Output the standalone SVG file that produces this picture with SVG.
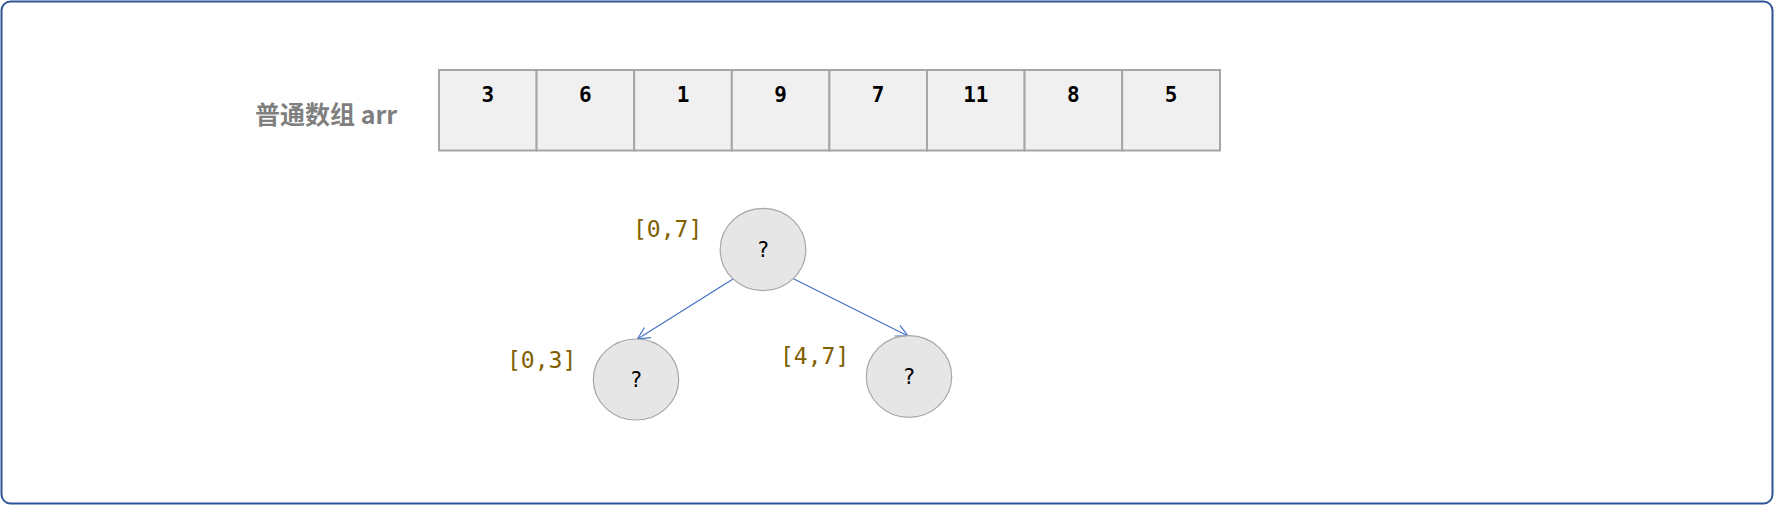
<svg xmlns="http://www.w3.org/2000/svg" width="1774" height="505" viewBox="0 0 1774 505">
<style>
.cell{fill:#f0f0f0;stroke:#a6a6a6;stroke-width:2}
.num{font-family:"DejaVu Sans Mono","Liberation Mono",monospace;font-weight:bold;font-size:21px;fill:#000;text-anchor:middle}
.node{fill:#e6e6e6;stroke:#a6a6a6;stroke-width:1.2}
.q{font-family:"DejaVu Sans Mono","Liberation Mono",monospace;font-size:21px;fill:#000;text-anchor:middle}
.rng{font-family:"DejaVu Sans Mono","Liberation Mono",monospace;font-size:23px;fill:#7f6000}
.edge{stroke:#4472c4;stroke-width:1.2;fill:none}
</style>
<defs>
<marker id="arr" markerWidth="16" markerHeight="16" refX="13" refY="8" orient="auto" markerUnits="userSpaceOnUse">
<path d="M1,2 L13,8 L1,14" fill="none" stroke="#4472c4" stroke-width="1.2"/>
</marker>
</defs>
<rect x="1.5" y="1.5" width="1771" height="502" rx="9" fill="#fff" stroke="#2f5597" stroke-width="2"/>
<g id="label">
<text x="255" y="124" font-family="'Noto Sans CJK SC',sans-serif" font-weight="bold" font-size="25" fill="#7f7f7f">普通数组 arr</text>
</g>
<g id="array">
<rect class="cell" x="439" y="70" width="97.6" height="80.5"/>
<rect class="cell" x="536.6" y="70" width="97.6" height="80.5"/>
<rect class="cell" x="634.2" y="70" width="97.6" height="80.5"/>
<rect class="cell" x="731.8" y="70" width="97.6" height="80.5"/>
<rect class="cell" x="829.4" y="70" width="97.6" height="80.5"/>
<rect class="cell" x="927" y="70" width="97.6" height="80.5"/>
<rect class="cell" x="1024.6" y="70" width="97.6" height="80.5"/>
<rect class="cell" x="1122.2" y="70" width="97.8" height="80.5"/>
<text class="num" x="487.8" y="102">3</text>
<text class="num" x="585.4" y="102">6</text>
<text class="num" x="683" y="102">1</text>
<text class="num" x="780.6" y="102">9</text>
<text class="num" x="878.2" y="102">7</text>
<text class="num" x="975.8" y="102">11</text>
<text class="num" x="1073.4" y="102">8</text>
<text class="num" x="1171" y="102">5</text>
</g>
<g id="connectors">
<line class="edge" x1="733" y1="279" x2="637.5" y2="339" marker-end="url(#arr)"/>
<line class="edge" x1="793" y1="278.5" x2="908" y2="336" marker-end="url(#arr)"/>
</g>
<g id="root">
<ellipse class="node" cx="763" cy="249.5" rx="42.8" ry="41.2"/>
<text class="q" x="763" y="257">?</text>
<text class="rng" x="633" y="237">[0,7]</text>
</g>
<g id="left">
<ellipse class="node" cx="636" cy="379.5" rx="42.7" ry="40.5"/>
<text class="q" x="636" y="387">?</text>
<text class="rng" x="507" y="368">[0,3]</text>
</g>
<g id="right">
<ellipse class="node" cx="909" cy="376.5" rx="42.7" ry="40.8"/>
<text class="q" x="909" y="384">?</text>
<text class="rng" x="780" y="364">[4,7]</text>
</g>
</svg>
